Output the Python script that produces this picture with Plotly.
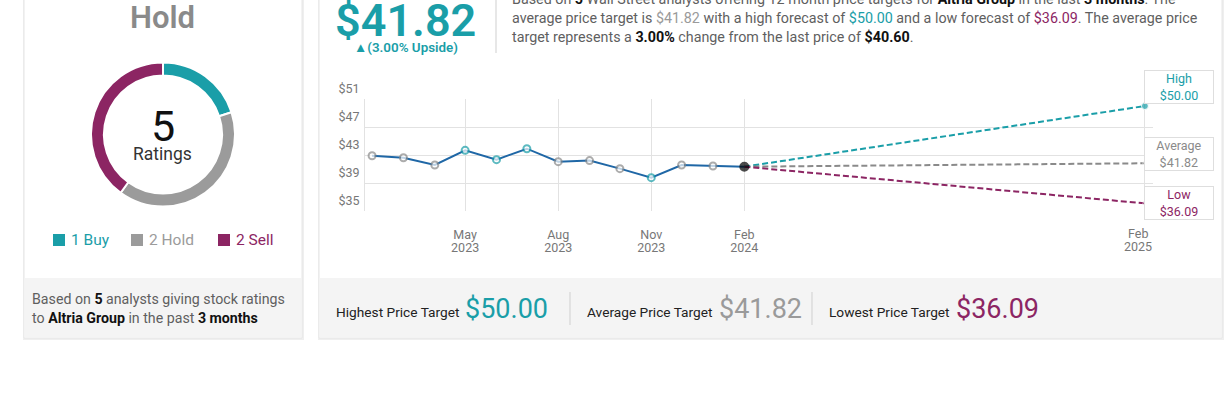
import plotly.graph_objects as go

W, H = 1231, 408
FONT = "Roboto"

TEAL = "#1a9ea8"
GRAY = "#9b9b9b"
MAG = "#8c2563"
BLUE = "#1f67a6"
TXT = "#5f5f5f"
TICK = "#777777"

# ---------------- data ----------------
company = "Altria Group"
consensus = "Hold"
rating_labels = ["Buy", "Hold", "Sell"]
rating_counts = [1, 2, 2]
period_months = 3

hist_dates = ["2023-01-29", "2023-03-01", "2023-04-01", "2023-05-01", "2023-06-01",
              "2023-07-01", "2023-08-01", "2023-09-01", "2023-10-01", "2023-11-01",
              "2023-12-01", "2024-01-01", "2024-02-01"]
hist_prices = [42.9, 42.6, 41.57, 43.67, 42.33, 43.9, 42.05, 42.2, 41.05, 39.76,
               41.57, 41.43, 41.33]
point_kind = ["hold", "hold", "hold", "buy", "buy", "buy", "hold", "hold", "hold",
              "buy", "hold", "hold", "last"]

forecast_date = "2025-03-03"
target_high = 50.00
target_avg = 41.82
target_low = 36.09
last_price = 40.60
upside_pct = 3.00

y_ticks = [35, 39, 43, 47, 51]
y_tick_text = ["$35", "$39", "$43", "$47", "$51"]
x_tick_dates = ["2023-05-01", "2023-08-01", "2023-11-01", "2024-02-01", forecast_date]
x_tick_month = ["May", "Aug", "Nov", "Feb", ""]
x_tick_year = ["2023", "2023", "2023", "2024", ""]
last_tick_month = "Feb"
last_tick_year = "2025"

# ---------------- helpers ----------------
def X(px):
    return px / W


def Y(py):
    return 1 - py / H


def rect(x0, y0, x1, y1, fill, line=None):
    return dict(type="rect", xref="paper", yref="paper", x0=X(x0), x1=X(x1),
                y0=Y(y1), y1=Y(y0), fillcolor=fill,
                line=dict(color=line or fill, width=1 if line else 0), layer="below")


def vline(x, y0, y1, color="#d6d6d6"):
    return dict(type="line", xref="paper", yref="paper", x0=X(x), x1=X(x),
                y0=Y(y1), y1=Y(y0), line=dict(color=color, width=1), layer="below")


def ann(text, x, y, size, color, xanchor="left", weight=400, family=FONT, **kw):
    return dict(text=text, x=X(x), y=Y(y), xref="paper", yref="paper",
                xanchor=xanchor, yanchor="middle", showarrow=False,
                font=dict(family=family, size=size, color=color, weight=weight), **kw)


kind_color = {"hold": "#8a8a8a", "buy": TEAL, "last": "#000000"}
kind_fill = {"hold": "#ffffff", "buy": "#ffffff", "last": "#000000"}

fig = go.Figure()

last_date = hist_dates[-1]
last_val = hist_prices[-1]

# forecast lines
for tgt, col, msize in [(target_high, TEAL, 7), (target_avg, "#8a8a8a", 4), (target_low, MAG, 4)]:
    fig.add_trace(go.Scatter(
        x=[last_date, forecast_date], y=[last_val, tgt], mode="lines+markers",
        line=dict(color=col, width=2, dash="6px,3px"),
        marker=dict(size=[0, msize], color=col), hoverinfo="skip", showlegend=False))

# historical line
fig.add_trace(go.Scatter(
    x=hist_dates, y=hist_prices, mode="lines+markers",
    line=dict(color=BLUE, width=2),
    marker=dict(size=[7 if k != "last" else 8 for k in point_kind],
                color=[kind_fill[k] for k in point_kind],
                line=dict(color=[kind_color[k] for k in point_kind], width=2)),
    hoverinfo="skip", showlegend=False))

# carrier for the year-label axis
fig.add_trace(go.Scatter(x=[hist_dates[0]], y=[None], xaxis="x2", yaxis="y",
                         mode="markers", hoverinfo="skip", showlegend=False))

# donut
fig.add_trace(go.Pie(
    values=rating_counts, labels=rating_labels, hole=0.82, sort=False,
    direction="clockwise", rotation=0,
    marker=dict(colors=[TEAL, GRAY, MAG], line=dict(color="#ffffff", width=2)),
    textinfo="none", hoverinfo="skip", showlegend=False,
    domain=dict(x=[X(91), X(235)], y=[Y(207), Y(62)])))

shapes = []
for (x0, x1) in [(24, 302), (319, 1222)]:
    shapes.append(rect(x0 - 1, -20, x1 + 2, 340, "#efefef"))
    shapes.append(rect(x0, -20, x1, 338, "#ffffff", "#e6e6e6"))
    shapes.append(rect(x0 + 0.5, 278, x1 - 0.5, 337.5, "#f4f4f4"))
shapes.append(vline(496, 0, 53, "#cfcfcf"))
shapes.append(vline(570, 292, 325, "#cfcfcf"))
shapes.append(vline(812, 292, 325, "#cfcfcf"))
leg_x = [53, 131, 218]
for lx, col in zip(leg_x, [TEAL, GRAY, MAG]):
    shapes.append(dict(type="rect", xref="paper", yref="paper", x0=X(lx), x1=X(lx + 12),
                       y0=Y(246), y1=Y(234), fillcolor=col, line=dict(width=0)))

anns = []
total = sum(rating_counts)
anns.append(ann(consensus, 162, 18, 31, "#8a8a8a", "center", 600))
anns.append(ann(str(total), 163, 126, 43, "#111111", "center"))
anns.append(ann("Ratings", 163, 154, 17.5, "#333333", "center"))
for lx, col, c, lab in zip(leg_x, [TEAL, GRAY, MAG], rating_counts, rating_labels):
    anns.append(ann(f"{c} {lab}", lx + 16, 240, 15.5, col, "left"))

B = "#111111"
anns.append(ann(f"Based on <span style='color:{B}'><b>{total}</b></span> analysts giving stock ratings",
                30, 299, 14.2, TXT))
anns.append(ann(f"to <span style='color:{B}'><b>{company}</b></span> in the past "
                f"<span style='color:{B}'><b>{period_months} months</b></span>", 30, 318, 14.2, TXT))

anns.append(ann(f"${target_avg:.2f}", 405.5, 20, 45, TEAL, "center", 600))
anns.append(ann(f"▲({upside_pct:.2f}% Upside)", 405.5, 47.5, 13.4, TEAL, "center", 600))

para = [
    f"Based on <span style='color:{B}'><b>{total}</b></span> Wall Street analysts offering 12 month price targets for "
    f"<span style='color:{B}'><b>{company}</b></span> in the last <span style='color:{B}'><b>{period_months} months</b></span>. The",
    f"average price target is <span style='color:#9a9a9a'>${target_avg:.2f}</span> with a high forecast of "
    f"<span style='color:{TEAL}'>${target_high:.2f}</span> and a low forecast of "
    f"<span style='color:{MAG}'>${target_low:.2f}</span>. The average price",
    f"target represents a <span style='color:{B}'><b>{upside_pct:.2f}%</b></span> change from the last price of "
    f"<span style='color:{B}'><b>${last_price:.2f}</b></span>.",
]
for i, line in enumerate(para):
    anns.append(ann(line, 510, -1 + 19 * i, 14.3, TXT))

foot = [("Highest Price Target", target_high, TEAL, 334, 463),
        ("Average Price Target", target_avg, "#9a9a9a", 585, 717),
        ("Lowest Price Target", target_low, MAG, 827, 954)]
for lab, val, col, tx, vx in foot:
    anns.append(ann(lab, tx, 312, 13.7, "#222222"))
    anns.append(ann(f"${val:.2f}", vx, 309, 27, col))

for lab, val, col, cy in [("High", target_high, TEAL, 86.5), ("Average", target_avg, "#8a8a8a", 153.5),
                          ("Low", target_low, MAG, 202.5)]:
    anns.append(dict(text=f"{lab}<br>${val:.2f}", x=X(1179), y=Y(cy), xref="paper", yref="paper",
                     xanchor="center", yanchor="middle", showarrow=False,
                     font=dict(family=FONT, size=12.5, color=col),
                     bgcolor="#ffffff", bordercolor="#dedede", borderwidth=1, borderpad=2,
                     width=64, height=28))

for txt, py in [(last_tick_month, 233), (last_tick_year, 246)]:
    anns.append(dict(text=txt, x=forecast_date, xref="x", y=Y(py), yref="paper",
                     xanchor="center", yanchor="middle", xshift=-7, showarrow=False,
                     font=dict(family=FONT, size=12.5, color=TICK)))

xcommon = dict(type="date", range=["2023-01-22", "2025-03-11"], domain=[X(365), X(1153)],
               tickvals=x_tick_dates, zeroline=False, showline=False, ticks="", ticklen=0,
               automargin=False, tickfont=dict(family=FONT, size=12.5, color=TICK))

fig.update_layout(
    width=W, height=H, margin=dict(l=0, r=0, t=0, b=0, autoexpand=False),
    paper_bgcolor="#ffffff", plot_bgcolor="rgba(0,0,0,0)",
    shapes=shapes, annotations=anns,
    xaxis=dict(**xcommon, ticktext=x_tick_month, showgrid=True, gridcolor="#e2e2e2",
               ticklabelstandoff=14),
    xaxis2=dict(**xcommon, ticktext=x_tick_year, showgrid=False, overlaying="x",
                anchor="y", side="bottom", ticklabelstandoff=27),
    yaxis=dict(range=[35, 51], domain=[Y(211), Y(99)], tickvals=y_ticks, ticktext=y_tick_text,
               showgrid=True, gridcolor="#e2e2e2", zeroline=False, showline=True,
               linecolor="#e2e2e2", ticks="", ticklen=0, ticklabelshift=-10, automargin=False,
               ticklabelstandoff=2, tickfont=dict(family=FONT, size=12.5, color=TICK)),
)

fig.write_html("out.html")
